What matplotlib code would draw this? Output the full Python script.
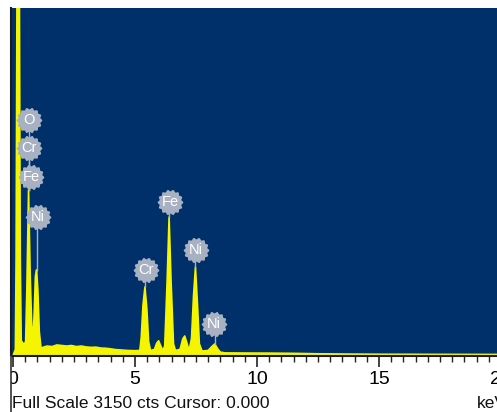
import numpy as np
import matplotlib
matplotlib.use("Agg")
import matplotlib.pyplot as plt
from matplotlib.path import Path
from matplotlib.lines import Line2D
from matplotlib.patches import Rectangle

plt.rcParams['font.family'] = ['Liberation Sans', 'DejaVu Sans']

# EDS spectrum (keV, counts)
energy = [0.00, 0.10, 0.13, 0.17, 0.26, 0.30, 0.34, 0.40, 0.47, 0.52, 0.57, 0.64,
          0.71, 0.77, 0.82, 0.87, 0.92, 0.97, 1.02, 1.08, 1.15, 1.25, 1.40,
          1.60, 1.80, 2.00, 2.20, 2.40, 2.60, 2.80, 3.00, 3.20, 3.40, 3.60,
          3.80, 4.00, 4.20, 4.40, 4.70, 5.00, 5.20, 5.26, 5.33, 5.41, 5.49,
          5.56, 5.64, 5.80, 5.89, 5.97, 6.05, 6.14, 6.22, 6.32, 6.40, 6.48,
          6.58, 6.66, 6.85, 6.96, 7.04, 7.12, 7.22, 7.32, 7.40, 7.48, 7.56,
          7.64, 7.75, 8.00, 8.15, 8.27, 8.39, 8.50, 8.70, 9.50, 10.50, 11.50,
          12.50, 13.50, 15.00, 17.00, 20.50]
counts = [0, 60, 900, 3600, 3600, 900, 140, 118, 110, 130, 600, 1500,
          700, 280, 145, 380, 720, 780, 600, 220, 72, 80, 90,
          85, 100, 95, 90, 95, 85, 90, 82, 78, 80, 72,
          70, 65, 58, 55, 50, 48, 50, 170, 460, 625, 420,
          130, 50, 60, 115, 138, 95, 50, 90, 680, 1258, 680,
          110, 50, 60, 155, 181, 125, 50, 160, 540, 805, 480,
          110, 45, 50, 85, 109, 65, 35, 28, 27, 26, 24,
          20, 18, 16, 15, 14]

# element markers: name, label position (keV, counts), peak top they point to
label_names = ['O', 'Cr', 'Fe', 'Ni', 'Cr', 'Fe', 'Ni', 'Ni']
label_x = [0.66, 0.66, 0.74, 1.02, 5.45, 6.43, 7.50, 8.24]
label_y = [2136, 1882, 1620, 1258, 778, 1394, 959, 290]
peak_x = [0.64, 0.64, 0.64, 0.97, 5.41, 6.40, 7.48, 8.27]
peak_y = [1500, 1500, 1500, 780, 625, 1258, 805, 109]

navy = '#00306a'
yellow = '#f5f500'
badge = '#a7b1c1'

W, H = 497, 412
fig = plt.figure(figsize=(W / 100, H / 100), dpi=100)
fig.patch.set_facecolor('white')

x_lo, x_hi = -0.1, 20.3
px_per_kev = 24.4
ax = fig.add_axes([10.5 / W, 56 / H, (x_hi - x_lo) * px_per_kev / W, 348 / H])
ax.set_facecolor(navy)
ax.set_xlim(x_lo, x_hi)
ax.set_ylim(0, 3150)

ax.fill_between(energy, counts, 0, color=yellow, lw=0, zorder=2)
ax.plot(energy, counts, color=yellow, lw=1.2, zorder=2)

# gear-shaped badge marker
t = np.linspace(0, 2 * np.pi, 200)
r = 1 + 0.07 * np.cos(14 * t)
gear = Path(np.column_stack([r * np.cos(t), r * np.sin(t)]), closed=True)

for name, lx, ly, px, py in zip(label_names, label_x, label_y, peak_x, peak_y):
    ax.plot([px, px], [py, ly], color=badge, lw=1.0, zorder=3)
    ax.scatter([lx], [ly], s=340, marker=gear, color=badge, lw=0, zorder=4)
    ax.text(lx, ly, name, color='white', fontsize=10.5, ha='center', va='center',
            zorder=5)

ax.set_yticks([])
ax.set_xticks([0, 5, 10, 15, 20])
ax.set_xticks(np.arange(0, 20.5, 0.5), minor=True)
ax.tick_params(axis='x', which='major', direction='out', length=8, width=1.2,
               color='#222222', labelsize=14, pad=3)
ax.tick_params(axis='x', which='minor', direction='out', length=4, width=1.0,
               color='#222222')
for side in ['top', 'right']:
    ax.spines[side].set_visible(False)
ax.spines['bottom'].set_color('#1a1a1a')
ax.spines['bottom'].set_linewidth(1.5)
ax.spines['left'].set_color('#1a1a1a')
ax.spines['left'].set_linewidth(1.5)

# window edge hiding half of the "0" label
fig.add_artist(Rectangle((0, 0), 10.5 / W, 56 / H, transform=fig.transFigure,
                         facecolor='white', edgecolor='none', zorder=10))
fig.add_artist(Line2D([10.5 / W, 10.5 / W], [0, 56 / H], transform=fig.transFigure,
                      color='#333333', lw=1.2, zorder=11))

fig.text(12 / W, 1 - 404 / H, 'Full Scale 3150 cts Cursor: 0.000', fontsize=12.5,
         ha='left', va='center', color='#111111')
fig.text(477 / W, 1 - 404 / H, 'keV', fontsize=12.5, ha='left', va='center',
         color='#111111')

fig.savefig('out.png', dpi=100)
